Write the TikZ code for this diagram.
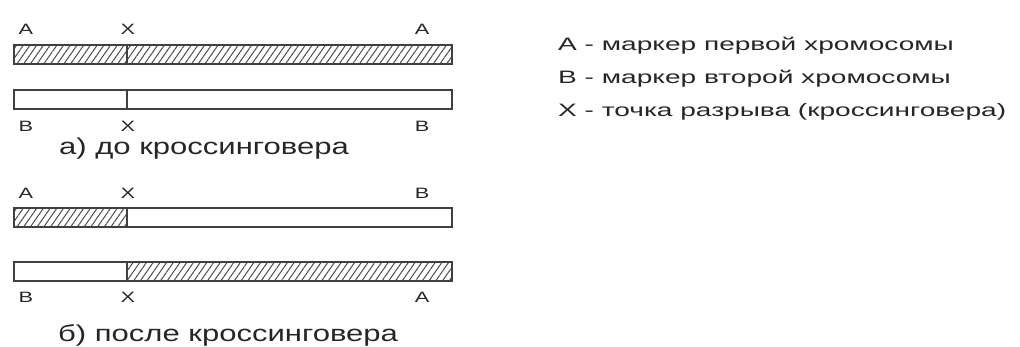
\documentclass[tikz,border=0pt]{standalone}
\usepackage{fontspec}
\setmainfont{Liberation Sans}[FakeStretch=1.35]
\newfontfamily\lblfont{Liberation Sans}[FakeStretch=1.45]
\newfontfamily\legfont{Liberation Sans}[FakeStretch=1.56]
\usetikzlibrary{patterns.meta}
\begin{document}
\begin{tikzpicture}[x=1pt,y=-1pt,
  bar/.style={draw=black!75,line width=1.4pt},
  hatch/.style={bar,pattern={Lines[angle=55,distance=5.5pt,line width=1pt]},pattern color=black!70},
  lbl/.style={inner sep=0pt,font=\lblfont\fontsize{15}{17}\selectfont,text=black!85},
  captxt/.style={inner sep=0pt,font=\fontsize{23}{27}\selectfont,text=black!85},
  leg/.style={inner sep=0pt,anchor=west,font=\legfont\fontsize{18}{21}\selectfont,text=black!85}]
\useasboundingbox (0,0) rectangle (1020,347);
% row a
\node[lbl] (a1) at (26,29) {A};
\node[lbl] (ax1) at (128,29) {X};
\node[lbl] (a2) at (422,29) {A};
\path[hatch] (14,45) rectangle (127,64);
\path[hatch] (127,45) rectangle (452,64);
\path[bar] (14,90) rectangle (127,109);
\path[bar] (127,90) rectangle (452,109);
\node[lbl] (b1) at (26,126) {B};
\node[lbl] (bx1) at (128,126) {X};
\node[lbl] (b2) at (422,126) {B};
\node[captxt,anchor=base] (capa) at (204,155) {а) до кроссинговера};
% row b
\node[lbl] (c1) at (26,193) {A};
\node[lbl] (cx1) at (128,193) {X};
\node[lbl] (c2) at (422,193) {B};
\path[hatch] (14,208) rectangle (127,227);
\path[bar] (127,208) rectangle (452,227);
\path[bar] (14,262) rectangle (127,281);
\path[hatch] (127,262) rectangle (452,281);
\node[lbl] (d1) at (26,297) {B};
\node[lbl] (dx1) at (128,297) {X};
\node[lbl] (d2) at (422,297) {A};
\node[captxt] (capb) at (228,335) {б) после кроссинговера};
% legend
\node[leg] (l1) at (558,46) {А - маркер первой хромосомы};
\node[leg] (l2) at (558,79) {В - маркер второй хромосомы};
\node[leg] (l3) at (558,112) {Х - точка разрыва (кроссинговера)};
\end{tikzpicture}
\end{document}
